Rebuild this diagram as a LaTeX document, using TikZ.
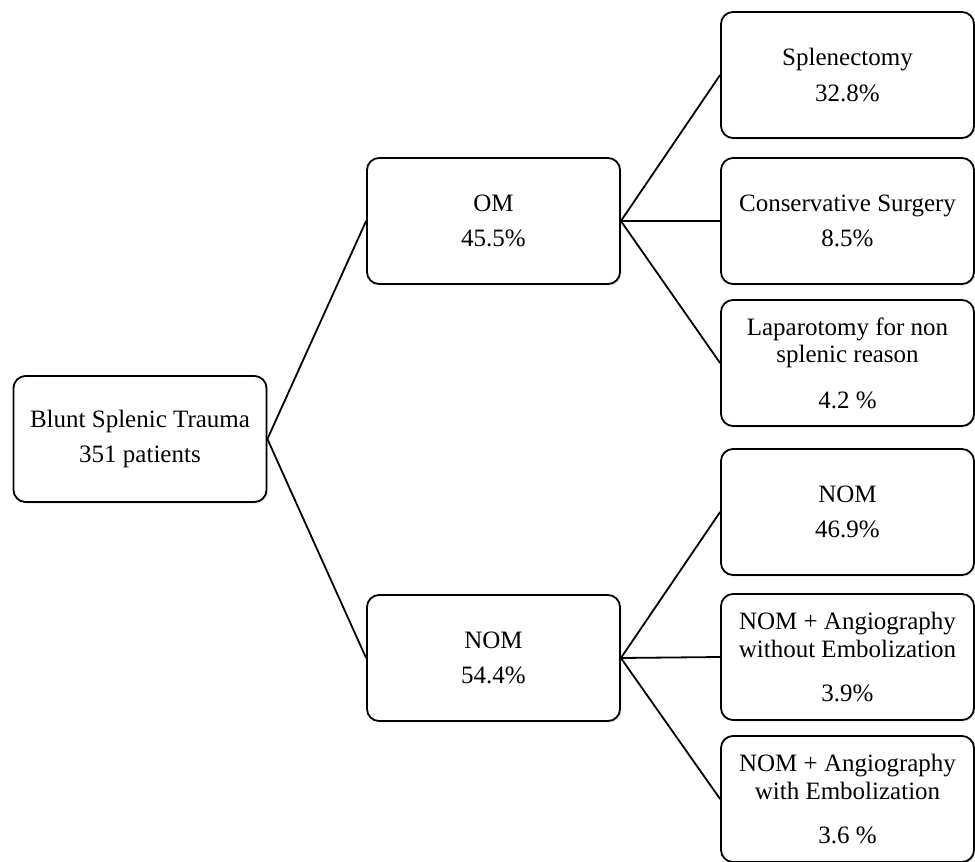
\documentclass[tikz,border=0pt]{standalone}
\usepackage{fontspec}
\setmainfont{Liberation Serif}
\usepackage{tikz}
\usetikzlibrary{positioning, shapes, arrows.meta, calc, shadows}

\begin{document}
\begin{tikzpicture}[x=0.5pt, y=-0.5pt,
    box/.style={draw, line width=0.9pt, rounded corners=6pt, fill=white,
        minimum width=126.5pt, minimum height=63pt, align=center,
        font=\fontsize{12.5}{13.8}\selectfont,
        drop shadow={opacity=0.18, shadow xshift=0.8pt, shadow yshift=-0.8pt}},
    link/.style={line width=0.9pt}]
            \useasboundingbox (0,0) rectangle (975,862);
            
            % Root of the tree
            \node (root) at (140, 439) [box] {Blunt Splenic Trauma\\[4pt] 351 patients};
            
            % First split
            \node (om) at (493.5, 221) [box] {OM\\[4pt] 45.5\%};
            \node (nom) at (493.5, 658) [box] {NOM\\[4pt] 54.4\%};
            
            % Leaves under OM
            \node (splen) at (847.5, 75) [box] {Splenectomy\\[4pt] 32.8\%};
            \node (cons) at (847.5, 221) [box] {Conservative Surgery\\[4pt] 8.5\%};
            \node (lapar) at (847.5, 363) [box] {Laparotomy for non\\splenic reason\\[9pt] 4.2 \%};
            
            % Leaves under NOM
            \node (nomleaf) at (847.5, 512) [box] {NOM\\[4pt] 46.9\%};
            \node (noembol) at (847.5, 657) [box] {NOM + Angiography\\without Embolization\\[8.5pt] 3.9\%};
            \node (embol) at (847.5, 799) [box] {NOM + Angiography\\with Embolization\\[8.5pt] 3.6 \%};
            
            % Connectors
            \draw[link] (root.east) -- (om.west);
            \draw[link] (root.east) -- (nom.west);
            \draw[link] (om.east) -- (splen.west);
            \draw[link] (om.east) -- (cons.west);
            \draw[link] (om.east) -- (lapar.west);
            \draw[link] (nom.east) -- (nomleaf.west);
            \draw[link] (nom.east) -- (noembol.west);
            \draw[link] (nom.east) -- (embol.west);
            
        \end{tikzpicture}
\end{document}
